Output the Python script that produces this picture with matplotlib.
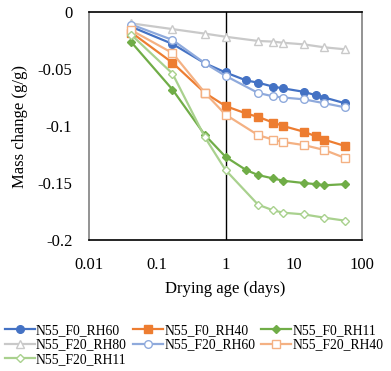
import matplotlib
matplotlib.use("Agg")
import matplotlib.pyplot as plt

plt.rcParams["font.family"] = ["Liberation Serif", "DejaVu Serif"]

# drying ages (days)
age_f0 = [0.0417, 0.167, 0.5, 1, 2, 3, 5, 7, 14, 21, 28, 56]
age_f20 = [0.0417, 0.167, 0.5, 1, 3, 5, 7, 14, 28, 56]

# mass change (g/g)
f0_rh60 = [-0.013, -0.028, -0.045, -0.053, -0.060, -0.062, -0.0655, -0.067, -0.070, -0.073, -0.075, -0.080]
f0_rh40 = [-0.018, -0.0445, -0.071, -0.0825, -0.089, -0.092, -0.097, -0.100, -0.105, -0.109, -0.112, -0.1175]
f0_rh11 = [-0.0265, -0.068, -0.108, -0.127, -0.1386, -0.143, -0.146, -0.148, -0.150, -0.151, -0.152, -0.151]
f20_rh80 = [-0.010, -0.015, -0.019, -0.0217, -0.0254, -0.026, -0.027, -0.0284, -0.031, -0.0327]
f20_rh60 = [-0.011, -0.0245, -0.045, -0.056, -0.071, -0.074, -0.075, -0.0766, -0.080, -0.0836]
f20_rh40 = [-0.016, -0.036, -0.071, -0.090, -0.108, -0.112, -0.114, -0.1167, -0.121, -0.128]
f20_rh11 = [-0.020, -0.054, -0.110, -0.1386, -0.169, -0.174, -0.176, -0.1775, -0.1804, -0.183]

fig = plt.figure(figsize=(3.91, 3.71), dpi=100)
ax = fig.add_axes([0.2276, 0.353, 0.6984, 0.6147])

h = {}
h["A"], = ax.plot(age_f0, f0_rh60, "-o", color="#4472C4", lw=1.6, ms=5.5, label="N55_F0_RH60")
h["B"], = ax.plot(age_f0, f0_rh40, "-s", color="#ED7D31", lw=1.6, ms=5.5, label="N55_F0_RH40")
h["C"], = ax.plot(age_f0, f0_rh11, "-D", color="#70AD47", lw=1.6, ms=4.2, label="N55_F0_RH11")
h["D"], = ax.plot(age_f20, f20_rh80, "-^", color="#C9C9C9", lw=1.6, ms=6, mfc="white", label="N55_F20_RH80")
h["E"], = ax.plot(age_f20, f20_rh60, "-o", color="#8FAADC", lw=1.6, ms=5.5, mfc="white", label="N55_F20_RH60")
h["F"], = ax.plot(age_f20, f20_rh40, "-s", color="#F4B183", lw=1.6, ms=5.5, mfc="white", label="N55_F20_RH40")
h["G"], = ax.plot(age_f20, f20_rh11, "-D", color="#A9D18E", lw=1.6, ms=4.2, mfc="white", label="N55_F20_RH11")

ax.axvline(1, color="black", lw=1, zorder=1)

ax.set_xscale("log")
ax.set_xlim(0.01, 100)
ax.set_ylim(-0.2, 0)
ax.set_xticks([0.01, 0.1, 1, 10, 100])
ax.set_xticklabels(["0.01", "0.1", "1", "10", "100"])
ax.set_yticks([0, -0.05, -0.1, -0.15, -0.2])
ax.set_yticklabels(["0", "-0.05", "-0.1", "-0.15", "-0.2"])
ax.minorticks_off()
ax.tick_params(length=0, labelsize=12)
ax.tick_params(axis="x", pad=12)
ax.tick_params(axis="y", pad=12)

ax.spines["left"].set_color("#808080")
ax.spines["right"].set_color("#808080")
ax.spines["top"].set_color("black")
ax.spines["bottom"].set_color("black")
for s in ax.spines.values():
    s.set_linewidth(1.2)

ax.set_xlabel("Drying age (days)", fontsize=12, labelpad=6)
ax.set_ylabel("Mass change (g/g)", fontsize=12, labelpad=7)

order = ["A", "D", "G", "B", "E", "C", "F"]
fig.legend([h[k] for k in order], [h[k].get_label() for k in order],
           loc="upper left", bbox_to_anchor=(0.005, 0.135), ncol=3, frameon=False,
           fontsize=9.8, handlelength=2.2, handletextpad=0.1, columnspacing=0.45,
           labelspacing=0.12, borderaxespad=0.0, borderpad=0.2)

fig.savefig("out.png", dpi=100)
